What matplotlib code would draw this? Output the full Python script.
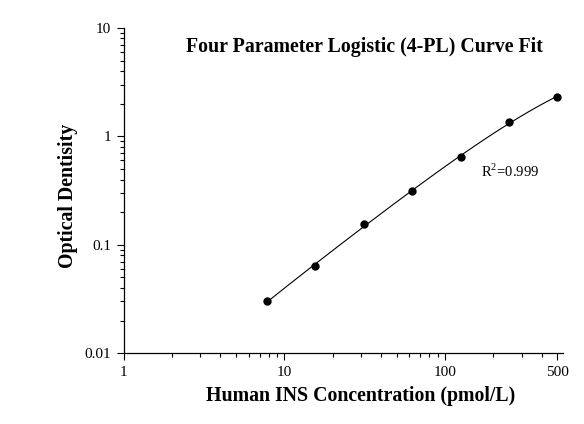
import matplotlib
matplotlib.use("Agg")
import matplotlib.pyplot as plt
import numpy as np
from matplotlib.ticker import FixedLocator, NullFormatter

# Standard curve data
conc = [7.8, 15.6, 31.25, 62.5, 125, 250, 500]
od = [0.030, 0.064, 0.156, 0.313, 0.645, 1.36, 2.33]
x_ticks = [1, 10, 100, 500]
x_tick_labels = ["1", "10", "100", "500"]
y_ticks = [0.01, 0.1, 1, 10]
y_tick_labels = ["0.01", "0.1", "1", "10"]
r2_text = "R$^{2}$=0.999"

plt.rcParams['font.family'] = ['Liberation Serif', 'DejaVu Serif']
plt.rcParams['mathtext.fontset'] = 'custom'
plt.rcParams['mathtext.rm'] = 'Liberation Serif'


def fit_4pl(x, y):
    # grid over b, c; a and d by weighted linear least squares
    x = np.asarray(x, float)
    y = np.asarray(y, float)
    best = None
    for b in np.linspace(0.6, 2.5, 96):
        for c in np.logspace(1.5, 4, 200):
            g = 1.0 / (1.0 + (x / c) ** b)
            A = np.column_stack([g, 1 - g]) / y[:, None]
            coef, *_ = np.linalg.lstsq(A, np.ones_like(y), rcond=None)
            pred = coef[0] * g + coef[1] * (1 - g)
            if np.any(pred <= 0):
                continue
            err = np.sum((np.log(pred) - np.log(y)) ** 2)
            if best is None or err < best[0]:
                best = (err, coef[0], b, c, coef[1])
    return best[1:]


a, b, c, d = fit_4pl(conc, od)
xs = np.logspace(np.log10(conc[0]), np.log10(conc[-1]), 300)
ys = d + (a - d) / (1 + (xs / c) ** b)

fig = plt.figure(figsize=(5.84, 4.24), dpi=100, facecolor='white')
ax = fig.add_axes([0.212, 0.167, 0.752, 0.767])

ax.plot(xs, ys, color='black', linewidth=0.8)
ax.plot(conc, od, 'o', color='black', markersize=5)

ax.set_xscale('log')
ax.set_yscale('log')
ax.set_xlim(1, 543)
ax.set_ylim(0.01, 10)

ax.xaxis.set_major_locator(FixedLocator(x_ticks))
ax.set_xticklabels(x_tick_labels)
minor_x = [m * 10 ** e for e in range(0, 3) for m in range(2, 10) if m * 10 ** e < 500 and m * 10 ** e != 100]
ax.xaxis.set_minor_locator(FixedLocator(minor_x))
ax.xaxis.set_minor_formatter(NullFormatter())

ax.yaxis.set_major_locator(FixedLocator(y_ticks))
ax.set_yticklabels(y_tick_labels)
minor_y = [m * 10.0 ** e for e in range(-2, 1) for m in range(2, 10)]
ax.yaxis.set_minor_locator(FixedLocator(minor_y))
ax.yaxis.set_minor_formatter(NullFormatter())

ax.tick_params(which='major', direction='out', length=5, width=0.8, labelsize=11, pad=4)
ax.tick_params(which='minor', direction='out', length=3, width=0.8)

ax.spines['top'].set_visible(False)
ax.spines['right'].set_visible(False)
ax.spines['left'].set_linewidth(0.9)
ax.spines['bottom'].set_linewidth(0.9)

ax.set_xlabel('Human INS Concentration (pmol/L)', fontweight='bold', fontsize=14.3)
ax.xaxis.set_label_coords(0.54, -0.10)
ax.set_ylabel('Optical Dentisity', fontweight='bold', fontsize=14.3)
ax.yaxis.set_label_coords(-0.104, 0.485)
ax.text(0.547, 0.94, 'Four Parameter Logistic (4-PL) Curve Fit', transform=ax.transAxes,
        ha='center', va='center', fontweight='bold', fontsize=14.3)
ax.text(168, 0.48, r2_text, ha='left', va='center', fontsize=10.5)

fig.savefig('out.png', dpi=100, facecolor='white')
